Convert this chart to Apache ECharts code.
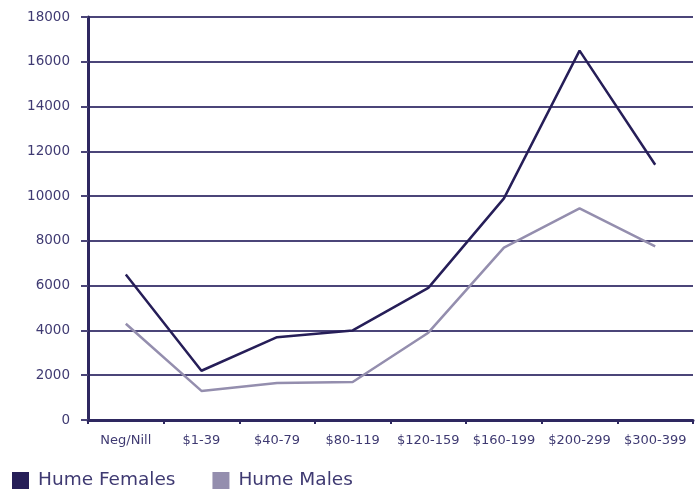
<!DOCTYPE html>
<html>
<head>
<meta charset="utf-8">
<script src="https://cdn.jsdelivr.net/npm/echarts@6/dist/echarts.min.js"></script>
<style>
  html, body { margin: 0; padding: 0; background: #fff; }
  #chart { width: 696px; height: 493px; }
</style>
</head>
<body>
<div id="chart"></div>
<script>
// 收入区间
const categories = ['Neg/Nill', '$1-39', '$40-79', '$80-119', '$120-159', '$160-199', '$200-299', '$300-399']
const females = [6500, 2200, 3700, 4000, 5900, 9900, 16500, 11400]
const males = [4300, 1300, 1650, 1700, 3900, 7700, 9450, 7750]
const yTicks = [0, 2000, 4000, 6000, 8000, 10000, 12000, 14000, 16000, 18000]

const textColor = '#3f3a72'
const chart = echarts.init(document.getElementById('chart'))

const option = {
  animation: false,
  textStyle: { fontFamily: '"DejaVu Sans", sans-serif' },
  grid: { left: 88, right: 3, top: 17, bottom: 73 },
  legend: {
    left: 7,
    top: 466,
    itemWidth: 17,
    itemHeight: 17,
    itemGap: 37,
    icon: 'rect',
    textStyle: { fontSize: 18.5, color: textColor, padding: [0, 0, 0, 4] },
    data: [
      { name: 'Hume Females', itemStyle: { color: '#261e58' } },
      { name: 'Hume Males', itemStyle: { color: '#948eae' } },
    ],
  },
  xAxis: {
    type: 'category',
    boundaryGap: true,
    data: categories,
    axisLine: { lineStyle: { color: '#2e2860', width: 3 } },
    axisTick: { show: true, length: 4, lineStyle: { color: '#2e2860', width: 2 } },
    axisLabel: { color: textColor, fontSize: 13, margin: 14, interval: 0, hideOverlap: false },
  },
  yAxis: {
    type: 'value',
    min: yTicks[0],
    max: yTicks[yTicks.length - 1],
    interval: 2000,
    axisLine: { show: true, lineStyle: { color: '#2e2860', width: 3 } },
    axisTick: { show: true, length: 7, lineStyle: { color: '#4b4579', width: 2 } },
    axisLabel: { color: textColor, fontSize: 13.5, margin: 18, formatter: (v) => String(v) },
    splitLine: { lineStyle: { color: '#4b4579', width: 2 } },
  },
  series: [
    {
      name: 'Hume Females',
      type: 'line',
      data: females,
      symbol: 'none',
      color: '#261e58',
      lineStyle: { width: 2.5, color: '#261e58' },
    },
    {
      name: 'Hume Males',
      type: 'line',
      data: males,
      symbol: 'none',
      color: '#948eae',
      lineStyle: { width: 2.5, color: '#948eae' },
    },
  ],
}
chart.setOption(option)
</script>
</body>
</html>
